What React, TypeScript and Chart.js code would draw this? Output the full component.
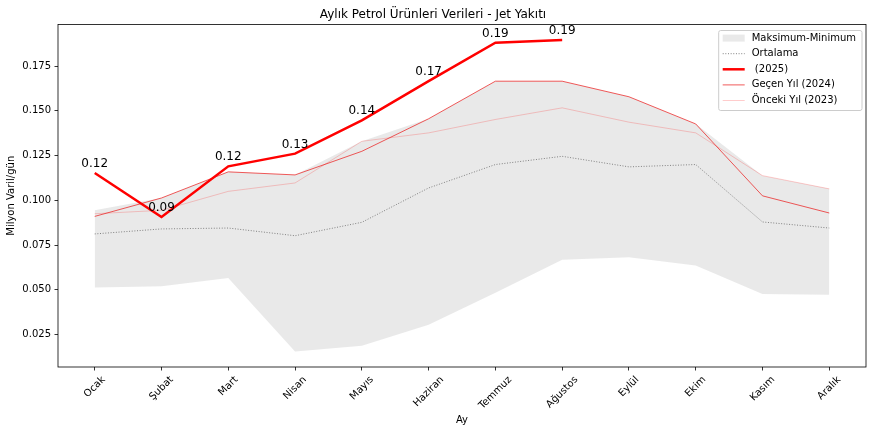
import React, { useEffect, useRef } from "react";
import { Chart, registerables } from "chart.js";

Chart.register(...registerables);

// ---------- data ----------
const months = ["Ocak", "Şubat", "Mart", "Nisan", "Mayıs", "Haziran", "Temmuz", "Ağustos", "Eylül", "Ekim", "Kasım", "Aralık"];
const y2025 = [0.1153, 0.0907, 0.119, 0.1261, 0.1447, 0.1666, 0.1881, 0.1896];
const y2024 = [0.091, 0.1013, 0.1159, 0.1142, 0.1274, 0.1456, 0.1666, 0.1666, 0.1579, 0.1427, 0.1025, 0.0929];
const y2023 = [0.0925, 0.0944, 0.105, 0.1097, 0.133, 0.1377, 0.1452, 0.1517, 0.1437, 0.1377, 0.1138, 0.1064];
const maxV = [0.0944, 0.1013, 0.1159, 0.1142, 0.133, 0.1456, 0.1666, 0.1666, 0.1579, 0.1427, 0.1138, 0.1064];
const minV = [0.0513, 0.0519, 0.0566, 0.0155, 0.0187, 0.0304, 0.0483, 0.0668, 0.0681, 0.0635, 0.0476, 0.0472];
const avgV = [0.0812, 0.084, 0.0845, 0.0802, 0.0877, 0.1069, 0.12, 0.1246, 0.1187, 0.12, 0.0879, 0.0845];
const yTicks = [0.025, 0.05, 0.075, 0.1, 0.125, 0.15, 0.175];

const titleText = "Aylık Petrol Ürünleri Verileri - Jet Yakıtı";
const yTitle = "Milyon Varil/gün";
const xTitle = "Ay";
const legendLabels = ["Maksimum-Minimum", "Ortalama", " (2025)", "Geçen Yıl (2024)", "Önceki Yıl (2023)"];

// ---------- styles ----------
const FONT = "'DejaVu Sans', 'Liberation Sans', sans-serif";
const bandColor = "rgba(211,211,211,0.5)";
const c2025 = "rgb(255,0,0)";
const c2024 = "rgb(235,20,20)";
const c2023 = "rgba(255,0,0,0.2)";
const cAvg = "rgb(128,128,128)";
const avgDash = [1, 1.65];

const pts = (arr: number[]) => arr.map((v, i) => ({ x: i, y: v }));

const allVals = [...y2025, ...y2024, ...y2023, ...maxV, ...minV, ...avgV];
const dMin = Math.min(...allVals);
const dMax = Math.max(...allVals);
const yMin = dMin - (dMax - dMin) * 0.05;
const yMax = dMax + (dMax - dMin) * 0.05;

const overlay = {
  id: "overlay",
  afterDraw(chart: any) {
    const { ctx, chartArea: ca, scales } = chart;
    const xs = scales.x;
    const ys = scales.y;
    ctx.save();
    // frame (spines)
    ctx.strokeStyle = "#000";
    ctx.lineWidth = 0.8;
    ctx.strokeRect(ca.left, ca.top, ca.right - ca.left, ca.bottom - ca.top);

    // x tick labels, rotated 45deg, centered on tick
    ctx.font = `10px ${FONT}`;
    ctx.fillStyle = "#000";
    const s = Math.SQRT1_2;
    months.forEach((m, i) => {
      const x = xs.getPixelForValue(i);
      const w = ctx.measureText(m).width;
      const H = (w + 11.6) * s;
      const cy = ca.bottom + 7 + H / 2;
      ctx.save();
      ctx.translate(x, cy);
      ctx.rotate(-Math.PI / 4);
      ctx.textAlign = "center";
      ctx.textBaseline = "middle";
      ctx.fillText(m, 0, 0);
      ctx.restore();
    });

    // data labels for 2025
    ctx.font = `12px ${FONT}`;
    ctx.textAlign = "center";
    ctx.textBaseline = "middle";
    ctx.fillStyle = "#000";
    y2025.forEach((v, i) => {
      ctx.fillText(v.toFixed(2), xs.getPixelForValue(i), ys.getPixelForValue(v) - 9);
    });

    // legend
    ctx.font = `10px ${FONT}`;
    const textW = Math.max(...legendLabels.map((l) => ctx.measureText(l).width));
    const padL = 4, handleW = 22, gap = 7, padR = 6;
    const boxW = padL + handleW + gap + textW + padR;
    const boxH = 80;
    const bx = ca.right - 4 - boxW;
    const by = ca.top + 6;
    ctx.beginPath();
    if ((ctx as any).roundRect) (ctx as any).roundRect(bx, by, boxW, boxH, 2);
    else ctx.rect(bx, by, boxW, boxH);
    ctx.fillStyle = "rgba(255,255,255,0.8)";
    ctx.fill();
    ctx.strokeStyle = "#cccccc";
    ctx.lineWidth = 1;
    ctx.stroke();

    const hx = bx + padL;
    const tx = hx + handleW + gap;
    legendLabels.forEach((lab, i) => {
      const cy = by + 7.6 + i * 15.6;
      ctx.save();
      if (i === 0) {
        ctx.fillStyle = bandColor;
        ctx.fillRect(hx, cy - 3.5, handleW, 7);
      } else {
        ctx.beginPath();
        ctx.moveTo(hx, cy);
        ctx.lineTo(hx + handleW, cy);
        if (i === 1) {
          ctx.strokeStyle = cAvg;
          ctx.lineWidth = 1;
          ctx.setLineDash(avgDash);
        } else if (i === 2) {
          ctx.strokeStyle = c2025;
          ctx.lineWidth = 2.5;
        } else if (i === 3) {
          ctx.strokeStyle = c2024;
          ctx.lineWidth = 0.7;
        } else {
          ctx.strokeStyle = c2023;
          ctx.lineWidth = 1;
        }
        ctx.stroke();
      }
      ctx.restore();
      ctx.fillStyle = "#000";
      ctx.textAlign = "left";
      ctx.textBaseline = "middle";
      ctx.fillText(lab, tx, cy);
    });
    ctx.restore();
  },
};

export default function App() {
  const ref = useRef<HTMLCanvasElement>(null);
  useEffect(() => {
    if (!ref.current) return;
    Chart.defaults.font.family = FONT;
    Chart.defaults.color = "#000";
    const lineCommon = { pointRadius: 0, pointHoverRadius: 0, tension: 0, fill: false };
    const chart = new Chart(ref.current, {
      type: "line",
      data: {
        datasets: [
          { ...lineCommon, label: " (2025)", data: pts(y2025), borderColor: c2025, borderWidth: 2.5 },
          { ...lineCommon, label: "Geçen Yıl (2024)", data: pts(y2024), borderColor: c2024, borderWidth: 0.7 },
          { ...lineCommon, label: "Önceki Yıl (2023)", data: pts(y2023), borderColor: c2023, borderWidth: 1 },
          { ...lineCommon, label: "Ortalama", data: pts(avgV), borderColor: cAvg, borderWidth: 1, borderDash: avgDash },
          {
            ...lineCommon,
            label: "Maksimum-Minimum",
            data: pts(maxV),
            borderColor: "rgba(0,0,0,0)",
            borderWidth: 0,
            backgroundColor: bandColor,
            fill: "+1",
          },
          { ...lineCommon, label: "min", data: pts(minV), borderColor: "rgba(0,0,0,0)", borderWidth: 0 },
        ],
      } as any,
      plugins: [overlay],
      options: {
        animation: false,
        responsive: false,
        events: [],
        layout: { padding: { left: 0, right: 7, top: 0, bottom: 0 } },
        plugins: {
          legend: { display: false },
          tooltip: { enabled: false },
          title: {
            display: true,
            text: titleText,
            color: "#000",
            font: { family: FONT, size: 12, weight: "normal" as any, lineHeight: 1.2 },
            padding: { top: 7.8, bottom: 2.3 },
          },
        },
        scales: {
          x: {
            type: "linear",
            min: -0.55,
            max: months.length - 1 + 0.55,
            afterBuildTicks: (axis: any) => {
              axis.ticks = months.map((_, i) => ({ value: i }));
            },
            afterFit: (axis: any) => {
              axis.height = 66;
            },
            ticks: { display: false, autoSkip: false },
            grid: { drawOnChartArea: false, drawTicks: true, tickLength: 3.5, color: "#000", lineWidth: 0.8 },
            border: { display: false },
            title: {
              display: true,
              text: xTitle,
              color: "#000",
              font: { family: FONT, size: 10, lineHeight: 1.2 },
              padding: { top: 0, bottom: 7 },
            },
          },
          y: {
            type: "linear",
            min: yMin,
            max: yMax,
            afterBuildTicks: (axis: any) => {
              axis.ticks = yTicks.map((v) => ({ value: v }));
            },
            afterFit: (axis: any) => {
              axis.width = 58;
            },
            ticks: {
              autoSkip: false,
              padding: 3.5,
              color: "#000",
              font: { family: FONT, size: 10 },
              callback: (v: any) => Number(v).toFixed(3),
            },
            grid: { drawOnChartArea: false, drawTicks: true, tickLength: 3.5, color: "#000", lineWidth: 0.8 },
            border: { display: false },
            title: {
              display: true,
              text: yTitle,
              color: "#000",
              font: { family: FONT, size: 10, lineHeight: 1.2 },
              padding: { top: 5.7, bottom: 0 },
            },
          },
        },
      } as any,
    });
    return () => chart.destroy();
  }, []);
  return (
    <div style={{ position: "absolute", left: 0, top: 0, width: 873, height: 433, background: "#fff" }}>
      <canvas ref={ref} width={873} height={433} style={{ display: "block" }} />
    </div>
  );
}
